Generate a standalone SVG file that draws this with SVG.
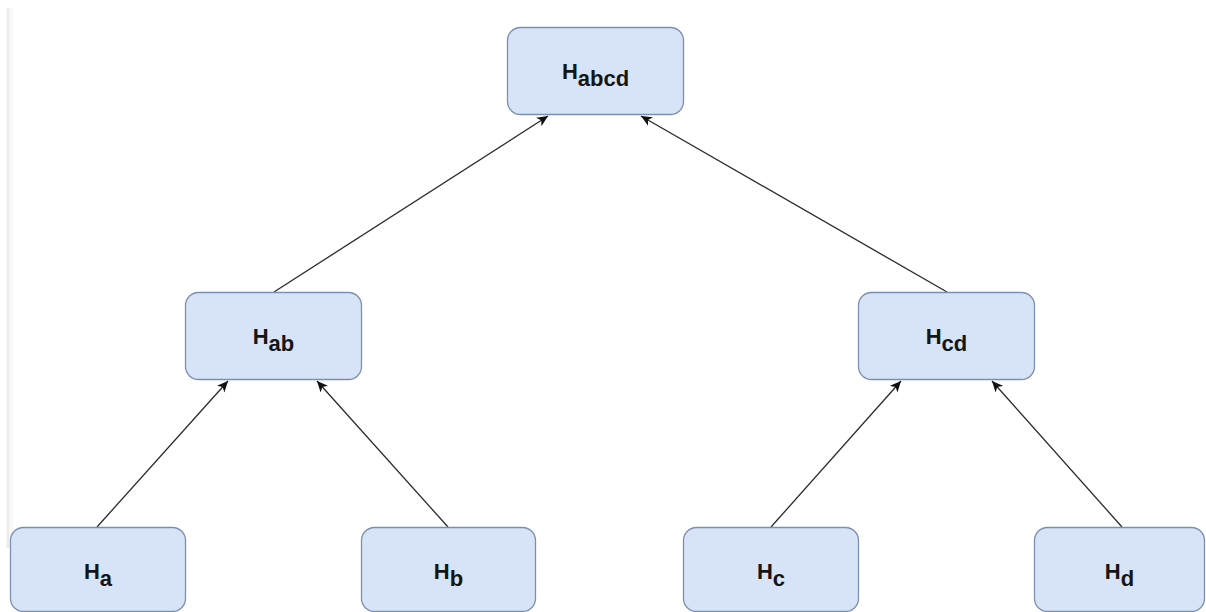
<svg xmlns="http://www.w3.org/2000/svg" width="1206" height="612" viewBox="0 0 1206 612">
  <style>
    .box { fill: #d7e4f8; stroke: #7d8fae; stroke-width: 1.3; }
    .lbl { font-family: "Liberation Sans", Arial, sans-serif; font-weight: bold; font-size: 22px; fill: #151515; text-anchor: middle; }
    .edge { fill: none; stroke: #2a2a2a; stroke-width: 1.3; }
  </style>
  <defs>
    <marker id="arrow" markerUnits="userSpaceOnUse" markerWidth="13" markerHeight="11" refX="11" refY="5" orient="auto">
      <path d="M0,0 L11,5 L0,10 L3,5 z" fill="#111"/>
    </marker>
  </defs>
  <rect x="0" y="0" width="1206" height="612" fill="#ffffff"/>
  <rect x="6" y="8" width="7" height="540" fill="#f7f7f7"/>
  <rect x="7" y="8" width="2" height="540" fill="#ebebeb"/>

  <g id="connectors">
    <line class="edge" x1="97" y1="527" x2="228" y2="381" marker-end="url(#arrow)"/>
    <line class="edge" x1="448" y1="527" x2="317" y2="381" marker-end="url(#arrow)"/>
    <line class="edge" x1="771" y1="527" x2="901" y2="381" marker-end="url(#arrow)"/>
    <line class="edge" x1="1122" y1="527" x2="992" y2="381" marker-end="url(#arrow)"/>
    <line class="edge" x1="274" y1="292" x2="548" y2="116" marker-end="url(#arrow)"/>
    <line class="edge" x1="947" y1="292" x2="641" y2="116" marker-end="url(#arrow)"/>
  </g>

  <g id="Habcd">
    <rect class="box" x="507.5" y="27.5" width="176" height="87" rx="13"/>
    <text class="lbl" x="595.5" y="79">H<tspan dy="7">abcd</tspan></text>
  </g>
  <g id="Hab">
    <rect class="box" x="185.5" y="292.5" width="176" height="87" rx="13"/>
    <text class="lbl" x="273.5" y="344">H<tspan dy="7">ab</tspan></text>
  </g>
  <g id="Hcd">
    <rect class="box" x="858.5" y="292.5" width="176" height="87" rx="13"/>
    <text class="lbl" x="946.5" y="344">H<tspan dy="7">cd</tspan></text>
  </g>
  <g id="Ha">
    <rect class="box" x="10.5" y="527.5" width="175" height="84" rx="13"/>
    <text class="lbl" x="98" y="579">H<tspan dy="7">a</tspan></text>
  </g>
  <g id="Hb">
    <rect class="box" x="361.5" y="527.5" width="174" height="84" rx="13"/>
    <text class="lbl" x="448.5" y="579">H<tspan dy="7">b</tspan></text>
  </g>
  <g id="Hc">
    <rect class="box" x="683.5" y="527.5" width="175" height="84" rx="13"/>
    <text class="lbl" x="771" y="579">H<tspan dy="7">c</tspan></text>
  </g>
  <g id="Hd">
    <rect class="box" x="1034.5" y="527.5" width="170" height="84" rx="13"/>
    <text class="lbl" x="1119.5" y="579">H<tspan dy="7">d</tspan></text>
  </g>
</svg>
